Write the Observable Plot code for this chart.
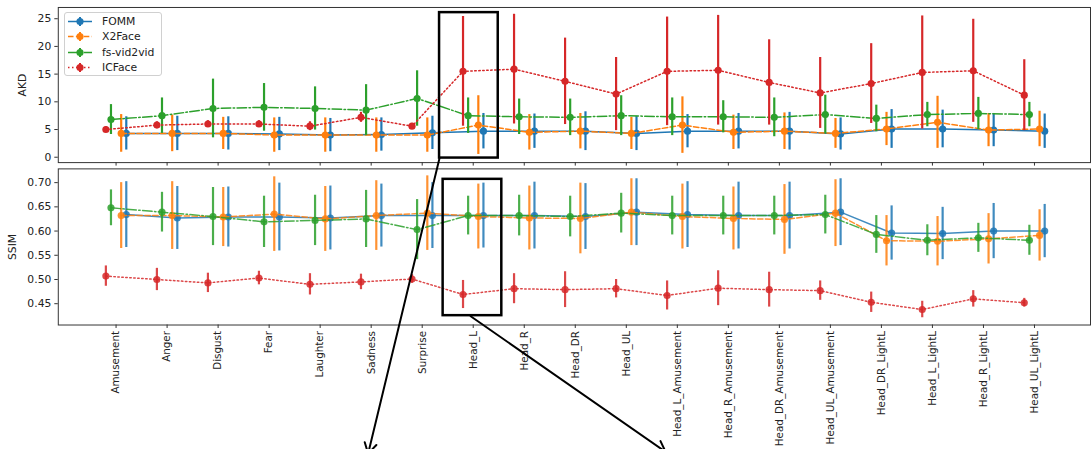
<!DOCTYPE html>
<html>
<head>
<meta charset="utf-8">
<script src="https://cdn.jsdelivr.net/npm/d3@7"></script>
<script src="https://cdn.jsdelivr.net/npm/@observablehq/plot@0.6"></script>
<style>
  html, body { margin: 0; padding: 0; background: #fff; }
  #wrap { position: relative; width: 1091px; height: 449px; overflow: hidden; font-family: "DejaVu Sans", sans-serif; }
  #wrap > svg { position: absolute; left: 0; top: 0; }
  #legend { position: absolute; left: 64px; top: 12px; width: 98px; height: 64px; border: 1px solid #d0d0d0; border-radius: 3px; background: rgba(255,255,255,0.85); box-sizing: border-box; }
  .lg-row { position: absolute; left: 0; height: 15px; display: flex; align-items: center; font-size: 10.8px; color: #222; }
  .lg-row svg { display: block; margin-left: 3px; margin-right: 10px; }
</style>
</head>
<body>
<div id="wrap"></div>
<script>
// ---------- data ----------
const categories = ["Amusement","Anger","Disgust","Fear","Laughter","Sadness","Surprise",
  "Head_L","Head_R","Head_DR","Head_UL",
  "Head_L_Amusement","Head_R_Amusement","Head_DR_Amusement","Head_UL_Amusement",
  "Head_DR_LightL","Head_L_LightL","Head_R_LightL","Head_UL_LightL"];
const methods = ["FOMM","X2Face","fs-vid2vid","ICFace"];

const akdTicks = [0, 5, 10, 15, 20, 25];
const ssimTicks = [0.45, 0.50, 0.55, 0.60, 0.65, 0.70];

// AKD (mean, std)
const akdFOMM      = [4.3,4.3,4.3,4.2,4.0,4.1,4.4, 4.7,4.7,4.7,4.3, 4.7,4.7,4.7,4.2, 5.1,5.1,4.9,4.7];
const akdFOMMStd   = [3.0,3.1,3.0,3.0,3.0,3.0,3.0, 3.2,3.1,3.5,3.1, 3.0,3.2,3.4,2.9, 3.5,3.4,3.0,3.1];
const akdX2Face    = [4.3,4.3,4.3,4.0,4.0,4.0,4.0, 5.8,4.5,4.7,4.3, 5.8,4.5,4.7,4.3, 5.1,6.3,4.9,5.1];
const akdX2FaceStd = [3.4,3.3,2.9,3.1,3.1,3.1,3.1, 5.3,3.2,3.2,2.9, 5.1,3.1,3.3,2.7, 3.0,4.7,3.0,3.2];
const akdFsVid     = [6.8,7.5,8.8,9.0,8.8,8.5,10.6, 7.5,7.3,7.2,7.5, 7.3,7.3,7.2,7.7, 7.0,7.7,7.9,7.7];
const akdFsVidStd  = [2.7,3.2,5.3,4.3,3.9,4.6,5.0, 3.2,3.2,3.3,3.6, 3.4,2.9,3.5,3.5, 2.4,2.2,2.9,2.2];
const akdICFace    = [5.0,5.8,6.0,6.0,5.6,7.2,5.6, 15.5,15.9,13.7,11.4, 15.5,15.7,13.5,11.6, 13.3,15.3,15.6,11.2];
const akdICFaceStd = [0.5,0.6,0.6,0.6,0.8,0.9,0.5, 9.9,9.9,7.8,6.6, 9.8,9.9,7.7,6.4, 7.2,10.2,9.3,6.4];

// SSIM (mean, std)
const ssimFOMM      = [0.634,0.627,0.629,0.629,0.627,0.632,0.632, 0.632,0.632,0.630,0.639, 0.634,0.632,0.632,0.639, 0.596,0.595,0.600,0.600];
const ssimFOMMStd   = [0.068,0.065,0.062,0.070,0.066,0.065,0.068, 0.067,0.069,0.068,0.069, 0.068,0.069,0.069,0.069, 0.056,0.054,0.057,0.055];
const ssimX2Face    = [0.632,0.632,0.629,0.635,0.625,0.632,0.637, 0.630,0.627,0.626,0.639, 0.630,0.626,0.624,0.637, 0.580,0.579,0.584,0.591];
const ssimX2FaceStd = [0.068,0.070,0.061,0.077,0.067,0.072,0.077, 0.067,0.066,0.073,0.069, 0.067,0.065,0.072,0.069, 0.052,0.051,0.052,0.053];
const ssimFsVid     = [0.648,0.639,0.630,0.619,0.622,0.625,0.603, 0.632,0.632,0.630,0.637, 0.632,0.632,0.632,0.634, 0.593,0.581,0.586,0.581];
const ssimFsVidStd  = [0.037,0.041,0.060,0.053,0.052,0.059,0.062, 0.040,0.042,0.042,0.041, 0.040,0.040,0.040,0.040, 0.039,0.032,0.030,0.031];
const ssimICFace    = [0.507,0.500,0.493,0.503,0.490,0.495,0.501, 0.469,0.481,0.479,0.481, 0.467,0.482,0.479,0.477, 0.453,0.438,0.460,0.452];
const ssimICFaceStd = [0.021,0.023,0.020,0.014,0.022,0.016,0.009, 0.029,0.031,0.037,0.019, 0.030,0.036,0.036,0.020, 0.021,0.017,0.017,0.009];

// annotation (highlight boxes and arrows), in data units of each panel
const akdBox     = [{x1: 6.34, x2: 7.49, y1: -0.15, y2: 26.1}];
const akdArrow   = [{x1: 6.34, y1: -0.15, x2: 4.94, y2: -53.5}];
const ssimBox    = [{x1: 6.41, x2: 7.56, y1: 0.4253, y2: 0.7068}];
const ssimArrow  = [{x1: 6.95, y1: 0.4240, x2: 10.77, y2: 0.144}];

// ---------- styles ----------
const colors = ["#1f77b4", "#ff7f0e", "#2ca02c", "#d62728"];
const dashes = [null, "5.5,2.4", "9.6,2.4,1.5,2.4", "1.5,2.5"];
const shift  = [0.2, 0.1, -0.1, -0.2];
const W = 1095, H = 449;
const xDomain = [-1.1326, 19.098];
const font = "'DejaVu Sans', sans-serif";

function rows(series) {
  return methods.flatMap((m, k) => categories.map((c, i) => ({
    method: m, k, cat: i, mean: series[k][0][i], err: series[k][1][i]
  })));
}
const akdRows = rows([[akdFOMM, akdFOMMStd], [akdX2Face, akdX2FaceStd], [akdFsVid, akdFsVidStd], [akdICFace, akdICFaceStd]]);
const ssimRows = rows([[ssimFOMM, ssimFOMMStd], [ssimX2Face, ssimX2FaceStd], [ssimFsVid, ssimFsVidStd], [ssimICFace, ssimICFaceStd]]);

function seriesMarks(data, opacity) {
  const marks = [];
  methods.forEach((m, k) => {
    const d = data.filter(r => r.k === k);
    const X = r => r.cat + shift[k];
    marks.push(Plot.ruleX(d, {x: X, y1: r => r.mean - r.err, y2: r => r.mean + r.err,
      stroke: colors[k], strokeWidth: 2.2, strokeOpacity: opacity}));
    marks.push(Plot.line(d, {x: X, y: "mean", stroke: colors[k], strokeWidth: 1.5,
      strokeDasharray: dashes[k], strokeOpacity: opacity}));
    marks.push(Plot.dot(d, {x: X, y: "mean", r: 3.6, fill: colors[k], stroke: "none", fillOpacity: opacity}));
  });
  return marks;
}

const akdPlot = Plot.plot({
  width: W, height: H,
  marginLeft: 58, marginRight: 1, marginTop: 7, marginBottom: H - 162.7,
  style: {background: "transparent", fontFamily: font, fontSize: "10.8px", color: "#222", overflow: "visible"},
  x: {domain: xDomain},
  y: {domain: [-0.97, 27.03]},
  marks: [
    ...seriesMarks(akdRows, 1),
    Plot.frame({stroke: "#333", strokeWidth: 1}),
    Plot.axisY({ticks: akdTicks, tickSize: 3.5, tickPadding: 3.5, stroke: "#333",
      label: "AKD", labelAnchor: "center", labelOffset: 39.7, labelArrow: "none"}),
    Plot.axisX({ticks: d3.range(categories.length), tickFormat: () => "", tickSize: 3.5, stroke: "#333", label: null}),
    Plot.rect(akdBox, {x1: "x1", x2: "x2", y1: "y1", y2: "y2", fill: "none", stroke: "black", strokeWidth: 2.5}),
    Plot.arrow(akdArrow, {x1: "x1", y1: "y1", x2: "x2", y2: "y2", bend: 0, stroke: "black", strokeWidth: 2, headLength: 9})
  ]
});

const ssimPlot = Plot.plot({
  width: W, height: H,
  marginLeft: 58, marginRight: 1, marginTop: 169, marginBottom: H - 325.7,
  style: {background: "transparent", fontFamily: font, fontSize: "10.8px", color: "#222", overflow: "visible"},
  x: {domain: xDomain},
  y: {domain: [0.406, 0.7284]},
  marks: [
    ...seriesMarks(ssimRows, 0.85),
    Plot.frame({stroke: "#333", strokeWidth: 1}),
    Plot.axisY({ticks: ssimTicks, tickFormat: d3.format(".2f"), tickSize: 3.5, tickPadding: 3.5, stroke: "#333",
      label: "SSIM", labelAnchor: "center", labelOffset: 49.7, labelArrow: "none"}),
    Plot.axisX({ticks: d3.range(categories.length), tickFormat: i => categories[i], tickRotate: -90,
      tickSize: 3.5, tickPadding: 2.5, fontSize: 10.4, stroke: "#333", label: null}),
    Plot.rect(ssimBox, {x1: "x1", x2: "x2", y1: "y1", y2: "y2", fill: "none", stroke: "black", strokeWidth: 2.5}),
    Plot.arrow(ssimArrow, {x1: "x1", y1: "y1", x2: "x2", y2: "y2", bend: 0, stroke: "black", strokeWidth: 2, headLength: 9})
  ]
});

const wrap = document.getElementById("wrap");
wrap.appendChild(ssimPlot);
wrap.appendChild(akdPlot);

// legend
const legend = document.createElement("div");
legend.id = "legend";
methods.forEach((m, k) => {
  const row = document.createElement("div");
  row.className = "lg-row";
  row.style.top = (1 + k * 15.4) + "px";
  const ns = "http://www.w3.org/2000/svg";
  const s = document.createElementNS(ns, "svg");
  s.setAttribute("width", 24); s.setAttribute("height", 15);
  const ln = document.createElementNS(ns, "line");
  ln.setAttribute("x1", 0); ln.setAttribute("x2", 24); ln.setAttribute("y1", 7.5); ln.setAttribute("y2", 7.5);
  ln.setAttribute("stroke", colors[k]); ln.setAttribute("stroke-width", 1.5);
  if (dashes[k]) ln.setAttribute("stroke-dasharray", dashes[k]);
  const eb = document.createElementNS(ns, "line");
  eb.setAttribute("x1", 12); eb.setAttribute("x2", 12); eb.setAttribute("y1", 3); eb.setAttribute("y2", 12);
  eb.setAttribute("stroke", colors[k]); eb.setAttribute("stroke-width", 2);
  const c = document.createElementNS(ns, "circle");
  c.setAttribute("cx", 12); c.setAttribute("cy", 7.5); c.setAttribute("r", 3.6); c.setAttribute("fill", colors[k]);
  s.append(ln, eb, c);
  const t = document.createElement("span");
  t.textContent = m;
  row.append(s, t);
  legend.appendChild(row);
});
wrap.appendChild(legend);
</script>
</body>
</html>
